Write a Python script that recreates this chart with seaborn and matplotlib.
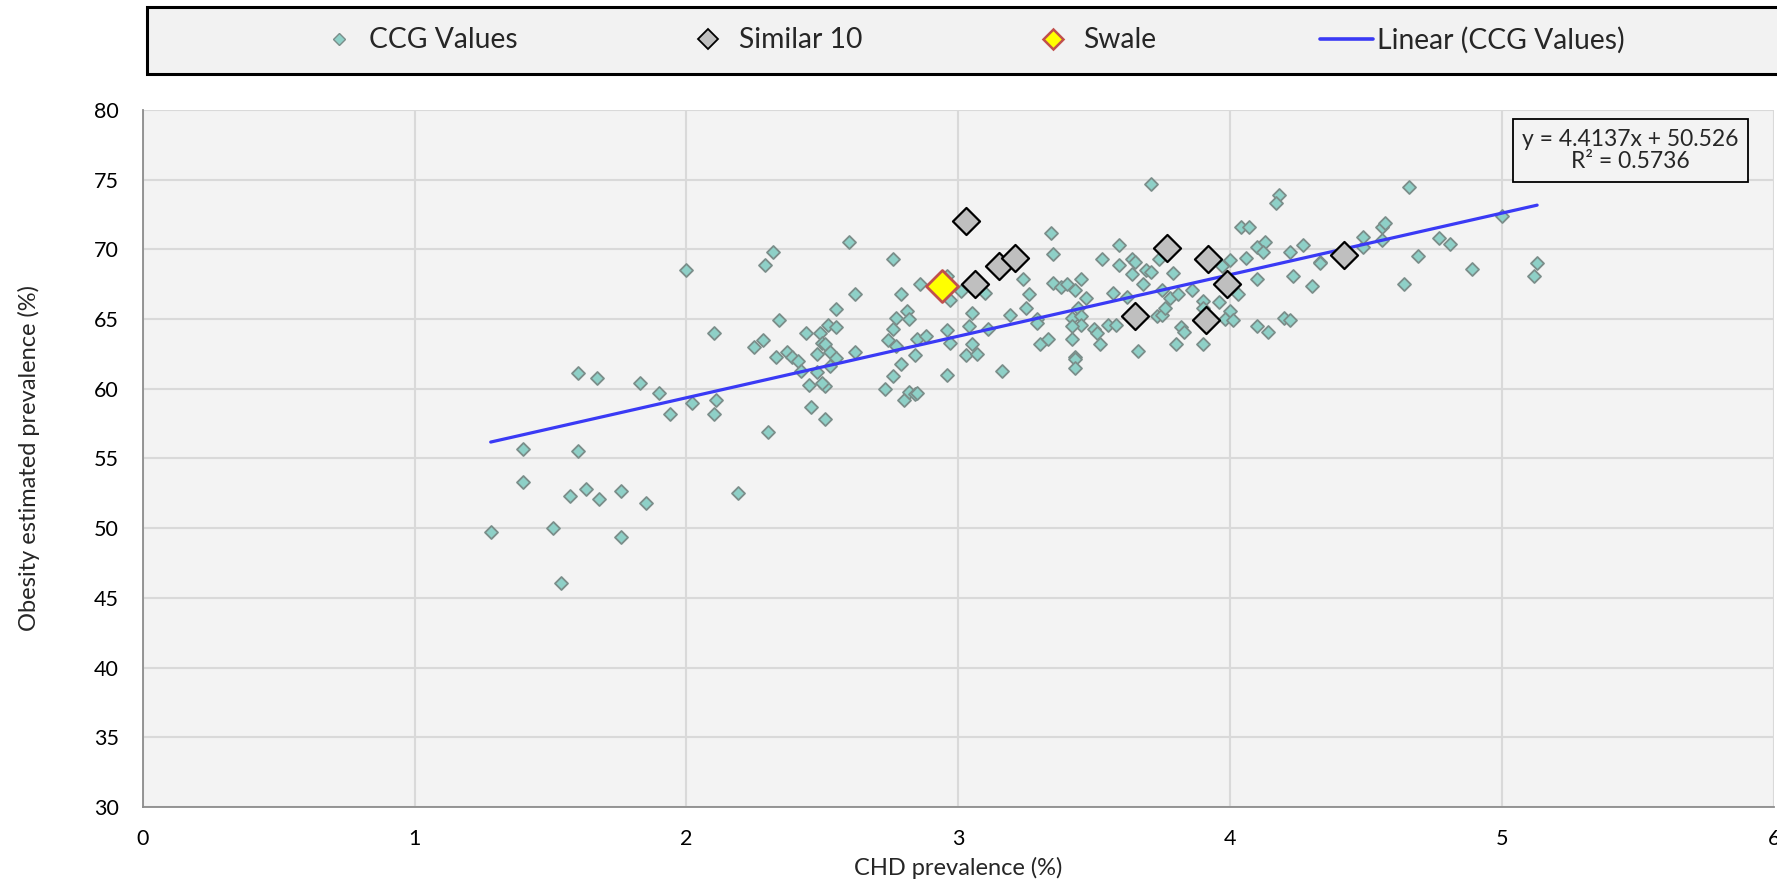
import numpy as np
import pandas as pd
import matplotlib
matplotlib.use("Agg")
import matplotlib.pyplot as plt
import seaborn as sns
from matplotlib.lines import Line2D
from matplotlib.patches import Rectangle

# ---------------- data ----------------
ccg_x = [1.28, 1.40, 1.40, 1.51, 1.54, 1.57, 1.60, 1.60, 1.63, 1.67, 1.68, 1.76, 1.76, 1.83, 1.85,
         1.90, 1.94, 2.02, 2.11, 2.10, 2.19, 2.30,
         2.00, 2.10, 2.29, 2.32, 2.34, 2.25, 2.28, 2.33, 2.37, 2.39, 2.41, 2.42, 2.44, 2.45, 2.46,
         2.48, 2.48, 2.49, 2.50, 2.51, 2.51, 2.50, 2.51, 2.52, 2.53, 2.53, 2.55, 2.55, 2.55, 2.60,
         2.62, 2.62, 2.73, 2.74, 2.76, 2.77, 2.76, 2.76, 2.77, 2.79, 2.79, 2.80, 2.81, 2.82, 2.82,
         2.84, 2.85, 2.84, 2.85, 2.88, 2.86, 2.96, 2.97, 2.96, 2.96, 2.97, 3.01, 3.03, 3.05, 3.04,
         3.05, 3.07, 3.10, 3.11,
         3.71, 3.34, 3.35, 3.24, 3.26, 3.19, 3.25, 3.29, 3.29, 3.30, 3.33, 3.16, 3.35, 3.38, 3.40,
         3.43, 3.45, 3.47, 3.44, 3.42, 3.45, 3.45, 3.42, 3.42, 3.43, 3.43, 3.43, 3.50, 3.52, 3.51,
         3.55, 3.58, 3.53, 3.59, 3.59, 3.57, 3.62, 3.66, 3.64, 3.65, 3.64, 3.69, 3.71, 3.68, 3.74,
         3.75, 3.73, 3.75, 3.76, 3.79, 3.78, 3.81, 3.82, 3.83, 3.80, 3.86, 3.90, 3.90, 3.90, 3.96,
         3.97, 4.00, 4.00, 3.98, 4.01, 4.03, 4.04, 4.07, 4.06, 4.10, 4.10, 4.13, 4.12, 4.10, 4.14,
         4.18, 4.17, 4.20, 4.22, 4.23, 4.22, 4.27,
         4.30, 4.33, 4.33, 4.49, 4.49, 4.56, 4.56, 4.57, 4.64, 4.66, 4.69, 4.77, 4.81, 4.89, 5.00,
         5.13, 5.12]
ccg_y = [49.7, 55.7, 53.3, 50.0, 46.1, 52.3, 55.5, 61.1, 52.8, 60.8, 52.1, 52.7, 49.4, 60.4, 51.8,
         59.7, 58.2, 59.0, 59.2, 58.2, 52.5, 56.9,
         68.5, 64.0, 68.9, 69.8, 64.9, 63.0, 63.5, 62.3, 62.6, 62.3, 62.0, 61.3, 64.0, 60.3, 58.7,
         61.2, 62.5, 64.0, 63.3, 63.2, 60.2, 60.4, 57.8, 64.6, 62.6, 61.6, 62.2, 64.4, 65.7, 70.5,
         66.8, 62.6, 60.0, 63.5, 64.3, 65.1, 69.3, 60.9, 63.1, 61.8, 66.8, 59.2, 65.6, 65.0, 59.8,
         59.6, 59.7, 62.4, 63.6, 63.8, 67.5, 64.2, 63.3, 61.0, 68.1, 66.4, 67.0, 62.4, 65.4, 64.5,
         63.2, 62.5, 66.9, 64.3,
         74.7, 71.2, 69.7, 67.9, 66.8, 65.3, 65.8, 65.0, 64.7, 63.2, 63.6, 61.3, 67.6, 67.3, 67.5,
         67.1, 67.9, 66.5, 65.8, 65.1, 65.2, 64.6, 64.5, 63.6, 62.3, 62.1, 61.5, 64.3, 63.2, 64.0,
         64.6, 64.6, 69.3, 70.3, 68.9, 66.9, 66.6, 62.7, 69.3, 69.1, 68.2, 68.5, 68.4, 67.5, 69.3,
         67.1, 65.2, 65.3, 65.8, 68.3, 66.5, 66.8, 64.4, 64.1, 63.2, 67.1, 66.3, 65.8, 63.2, 66.2,
         68.8, 69.2, 65.6, 65.0, 64.9, 66.8, 71.6, 71.6, 69.4, 67.9, 70.2, 70.5, 69.8, 64.5, 64.1,
         73.9, 73.3, 65.1, 69.8, 68.1, 64.9, 70.3,
         67.4, 69.1, 69.0, 70.2, 70.9, 70.7, 71.6, 71.9, 67.5, 74.5, 69.5, 70.8, 70.4, 68.6, 72.4,
         69.0, 68.1]

similar_x = [3.03, 3.06, 3.15, 3.21, 3.77, 3.92, 3.99, 3.65, 3.91, 4.42]
similar_y = [72.0, 67.5, 68.8, 69.4, 70.1, 69.3, 67.5, 65.2, 64.9, 69.6]

swale_x = [2.94]
swale_y = [67.4]

trend_slope = 4.4137
trend_intercept = 50.526
trend_r2 = 0.5736

x_ticks = [0, 1, 2, 3, 4, 5, 6]
y_ticks = [30, 35, 40, 45, 50, 55, 60, 65, 70, 75, 80]

series_labels = ["CCG Values", "Similar 10", "Swale", "Linear (CCG Values)"]
x_label = "CHD prevalence (%)"
y_label = "Obesity estimated prevalence (%)"

# ---------------- style ----------------
sns.set_style("white")
plt.rcParams["font.family"] = ["Lato", "DejaVu Sans"]

ccg_fill = "#8ed0c7"
ccg_edge = "#7b8e8a"
sim_fill = "#bfbfbf"
swale_fill = "#ffff00"
swale_edge = "#c0504d"
line_col = "#3a3af5"
axis_grey = "#8c8c8c"

W, H = 1777, 883
fig = plt.figure(figsize=(W / 100, H / 100), dpi=100)
fig.patch.set_facecolor("white")
ax = fig.add_axes([142.8 / W, (H - 807) / H, (1773.6 - 142.8) / W, (807 - 109.9) / H])
ax.set_facecolor("#f3f3f3")
ax.set_axisbelow(True)

ccg_df = pd.DataFrame({"x": ccg_x, "y": ccg_y})
sim_df = pd.DataFrame({"x": similar_x, "y": similar_y})
swale_df = pd.DataFrame({"x": swale_x, "y": swale_y})

sns.scatterplot(data=ccg_df, x="x", y="y", ax=ax, marker="D", s=44,
                color=ccg_fill, edgecolor=ccg_edge, linewidth=1.3, zorder=3, legend=False)

x_fit = np.array([min(ccg_x), max(ccg_x)])
fit_df = pd.DataFrame({"x": x_fit, "y": trend_slope * x_fit + trend_intercept})
sns.lineplot(data=fit_df, x="x", y="y", ax=ax, color=line_col, linewidth=2.3, zorder=4, legend=False)

sns.scatterplot(data=sim_df, x="x", y="y", ax=ax, marker="D", s=190,
                color=sim_fill, edgecolor="black", linewidth=1.6, zorder=5, legend=False)
sns.scatterplot(data=swale_df, x="x", y="y", ax=ax, marker="D", s=265,
                color=swale_fill, edgecolor=swale_edge, linewidth=2.0, zorder=6, legend=False)

ax.set_xlim(x_ticks[0], x_ticks[-1])
ax.set_ylim(y_ticks[0], y_ticks[-1])
ax.set_xticks(x_ticks)
ax.set_yticks(y_ticks)
ax.set_xticklabels([str(t) for t in x_ticks])
ax.set_yticklabels([str(t) for t in y_ticks])
ax.grid(True, color="#d9d9d9", linewidth=1.5)
for s in ["top", "right"]:
    ax.spines[s].set_visible(False)
for s in ["left", "bottom"]:
    ax.spines[s].set_color(axis_grey)
    ax.spines[s].set_linewidth(1.3)
ax.tick_params(axis="both", direction="out", length=5.8, width=1.3, color=axis_grey,
               labelsize=15.5, labelcolor="black")
ax.tick_params(axis="x", pad=10)
ax.tick_params(axis="y", pad=11.5)

ax.set_xlabel(x_label, fontsize=17)
ax.set_ylabel(y_label, fontsize=17)
ax.xaxis.set_label_coords(0.5, -0.071)
ax.yaxis.set_label_coords(-0.063, 0.5)

# equation box
ax.text((1630.5 - 142.8) / (1773.6 - 142.8), (807 - 150.5) / (807 - 109.9),
        f"y = {trend_slope}x + {trend_intercept}\nR² = {trend_r2}",
        transform=ax.transAxes, ha="center", va="center", fontsize=16.5, linespacing=1.1,
        zorder=7,
        bbox=dict(boxstyle="square,pad=0.4", facecolor="#f3f3f3", edgecolor="black", linewidth=1.3))

# legend box
fig.patches.append(Rectangle((147 / W, (H - 74) / H), 1.05 - 147 / W, 67 / H,
                             transform=fig.transFigure, facecolor="#f2f2f2",
                             edgecolor="black", linewidth=2.2, zorder=0))
handles = [
    Line2D([], [], linestyle="none", marker="D", markersize=6.6, markerfacecolor=ccg_fill,
           markeredgecolor=ccg_edge, markeredgewidth=1.0),
    Line2D([], [], linestyle="none", marker="D", markersize=9.7, markerfacecolor=sim_fill,
           markeredgecolor="black", markeredgewidth=1.3),
    Line2D([], [], linestyle="none", marker="D", markersize=10.2, markerfacecolor=swale_fill,
           markeredgecolor=swale_edge, markeredgewidth=1.8),
    Line2D([], [], color=line_col, linewidth=2.6),
]
leg_fs = 20.3
leg_em = leg_fs * 100 / 72
fig.legend(handles, series_labels, loc="center left", bbox_to_anchor=(312 / W, 1 - 40 / H),
           ncol=4, frameon=False, fontsize=leg_fs, columnspacing=164 / leg_em,
           handlelength=53 / leg_em, handletextpad=4 / leg_em, borderpad=0, borderaxespad=0)

fig.savefig("out.png", dpi=100, facecolor="white")
